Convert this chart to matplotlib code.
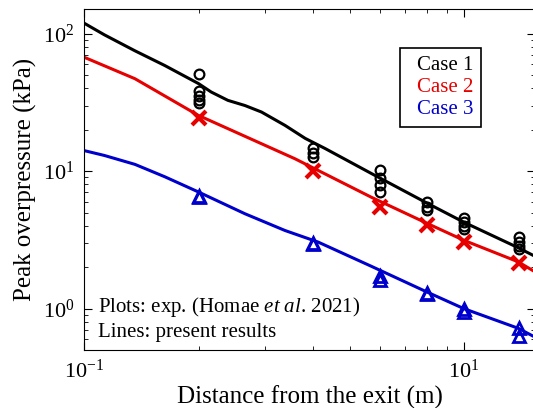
import numpy as np
import matplotlib.pyplot as plt

plt.rcParams['font.family'] = ['Liberation Serif', 'DejaVu Serif']
plt.rcParams['mathtext.fontset'] = 'custom'
plt.rcParams['mathtext.rm'] = 'Liberation Serif'
plt.rcParams['mathtext.it'] = 'Liberation Serif:italic'

# simulation lines
x_c1 = [1.0, 1.13, 1.36, 1.63, 2.0, 2.16, 2.39, 2.65, 2.93, 3.38, 3.82, 4.31, 5.71, 8.0, 10.0, 13.8, 15.4]
y_c1 = [119, 98, 75, 58.6, 43.3, 37.6, 32.7, 30.0, 26.9, 21.5, 17.3, 14.6, 9.6, 5.85, 4.25, 2.8, 2.4]
x_c2 = [1.0, 1.36, 2.0, 3.59, 5.71, 8.0, 10.0, 13.9, 15.4]
y_c2 = [67.3, 47.0, 25.4, 12.3, 6.45, 4.17, 3.14, 2.19, 1.85]
x_c3 = [1.0, 1.13, 1.36, 1.63, 2.0, 2.65, 3.38, 4.13, 5.71, 8.0, 10.0, 13.9, 15.4]
y_c3 = [14.1, 13.0, 11.2, 9.1, 7.05, 4.9, 3.7, 3.05, 2.03, 1.32, 1.0, 0.72, 0.62]

# experiments (Homae et al. 2021)
xe1 = [2, 2, 2, 2, 2, 4, 4, 4, 6, 6, 6, 6, 8, 8, 8, 10, 10, 10, 10, 14, 14, 14, 14]
ye1 = [51, 38, 35, 33, 31.5, 14.7, 13.6, 12.6, 10.2, 8.9, 7.9, 7.0, 5.95, 5.5, 5.2, 4.6, 4.3, 4.0, 3.8, 3.3, 3.05, 2.85, 2.7]
xe2 = [2, 4, 6, 8, 10, 14]
ye2 = [24.2, 10.0, 5.5, 4.05, 3.06, 2.15]
xe3 = [2, 2, 4, 4, 6, 6, 8, 8, 10, 10, 14, 14]
ye3 = [6.6, 6.45, 3.0, 2.95, 1.72, 1.62, 1.3, 1.27, 1.0, 0.95, 0.72, 0.63]

fig = plt.figure(figsize=(5.33, 4.08), dpi=100)
ax = fig.add_axes((0.158, 0.142, 0.846, 0.835))

l1, = ax.plot(x_c1, y_c1, color='k', lw=2.2, label='Case 1')
l2, = ax.plot(x_c2, y_c2, color='#e60000', lw=2.2, label='Case 2')
l3, = ax.plot(x_c3, y_c3, color='#0000cc', lw=2.2, label='Case 3')

ax.plot(xe1, ye1, 'o', mfc='none', mec='k', ms=7, mew=1.6)
ax.plot(xe2, ye2, 'x', color='#e60000', ms=10, mew=3)
ax.plot(xe3, ye3, '^', mfc='none', mec='#0000cc', ms=8, mew=2)

ax.set_xscale('log')
ax.set_yscale('log')
ax.set_xlim(1, 15.4)
ax.set_ylim(0.5, 150)

ax.set_xticks([1, 10])
ax.set_xticklabels(['$10^{-1}$', '$10^{1}$'])
ax.tick_params(which='both', direction='in', top=True, right=True, labelsize=16)
ax.tick_params(which='major', length=6, pad=7)
ax.tick_params(which='minor', length=3)

ax.set_xlabel('Distance from the exit (m)', fontsize=18, labelpad=2)
ax.set_ylabel('Peak overpressure (kPa)', fontsize=18, labelpad=4)

leg = ax.legend(handles=[l1, l2, l3], loc='upper right', bbox_to_anchor=(0.88, 0.887),
                handlelength=0, handletextpad=0.4, labelcolor='linecolor',
                fontsize=15, fancybox=False, edgecolor='k', framealpha=1,
                borderpad=0.38, labelspacing=0.1, borderaxespad=0)
leg.get_frame().set_linewidth(1.2)

ax.text(0.031, 0.112, 'Plots: exp. (Homae $\\it{et\\ al}$. 2021)', transform=ax.transAxes, fontsize=15)
ax.text(0.031, 0.038, 'Lines: present results', transform=ax.transAxes, fontsize=15)

fig.savefig('out.png', dpi=100)
